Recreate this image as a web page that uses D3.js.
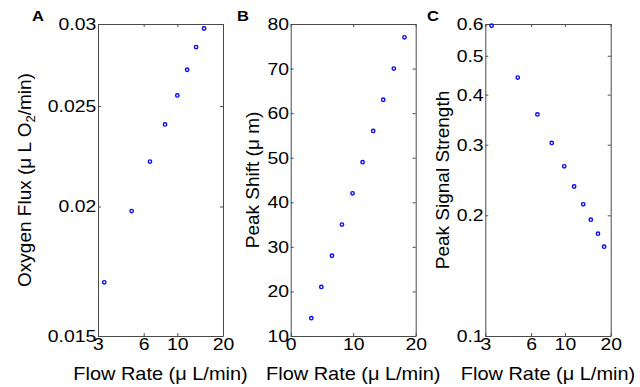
<!DOCTYPE html>
<html>
<head>
<meta charset="utf-8">
<script src="https://cdn.jsdelivr.net/npm/d3@7"></script>
<style>
  html, body { margin: 0; padding: 0; background: #fff; }
  svg { display: block; }
  text { font-family: "Liberation Sans", Arial, Helvetica, sans-serif; }
</style>
</head>
<body>
<svg id="chart" width="640" height="387"></svg>
<script>
// ---- data ----
const flowA = [3.3, 5.0, 6.6, 8.3, 10.0, 11.6, 13.3, 15.0];
const oxygenFlux = [0.0169, 0.0198, 0.0221, 0.0240, 0.0256, 0.0271, 0.0285, 0.0297];

const flowB = [3.3, 4.9, 6.6, 8.2, 9.9, 11.5, 13.2, 14.8, 16.5, 18.2];
const peakShift = [14, 21, 28, 35, 42, 49, 56, 63, 70, 77];

const flowC = [3.3, 4.9, 6.6, 8.2, 9.9, 11.5, 13.2, 14.8, 16.5, 18.1];
const signalStrength = [0.594, 0.441, 0.357, 0.303, 0.265, 0.236, 0.213, 0.195, 0.180, 0.167];

const xTicksLog = [3, 6, 10, 20];
const xTicksLin = [0, 10, 20];
const yTicksA = [0.015, 0.02, 0.025, 0.03];
const yTicksB = [10, 20, 30, 40, 50, 60, 70, 80];
const yTicksC = [0.1, 0.2, 0.3, 0.4, 0.5, 0.6];

const panelLetters = ["A", "B", "C"];
const xLabel = "Flow Rate (\u03BC L/min)";

// ---- layout ----
const svg = d3.select("#chart");
const plotTop = 24, plotBottom = 336;
const axisColor = "#4a4a4a";
const dotColor = "#0a0af0";
const tickFont = 17;
const stretch = 1.14;

const panels = [
  { left: 98, right: 223, xType: "log", xDomain: [3, 20], xTicks: xTicksLog,
    yType: "log", yDomain: [0.015, 0.03], yTicks: yTicksA,
    xs: flowA, ys: oxygenFlux, letter: panelLetters[0], letterX: 32, ylabelX: 31,
    ylabel: [["Oxygen Flux (\u03BC L O", 0], ["2", 1], ["/min)", -1]] },
  { left: 290.7, right: 415.7, xType: "lin", xDomain: [0, 20], xTicks: xTicksLin,
    yType: "lin", yDomain: [10, 80], yTicks: yTicksB,
    xs: flowB, ys: peakShift, letter: panelLetters[1], letterX: 237, ylabelX: 259,
    ylabel: [["Peak Shift (\u03BC m)", 0]] },
  { left: 485.3, right: 610.7, xType: "log", xDomain: [3, 20], xTicks: xTicksLog,
    yType: "log", yDomain: [0.1, 0.6], yTicks: yTicksC,
    xs: flowC, ys: signalStrength, letter: panelLetters[2], letterX: 427, ylabelX: 449,
    ylabel: [["Peak Signal Strength", 0]] }
];

function styleAxis(g) {
  g.select(".domain").attr("stroke", axisColor).attr("stroke-width", 1);
  g.selectAll(".tick line").attr("stroke", axisColor).attr("stroke-width", 1);
  g.selectAll(".tick text").attr("fill", "#000")
    .attr("font-size", tickFont)
    .attr("font-family", "Liberation Sans, Arial, sans-serif")
    .attr("transform", `scale(${stretch},1)`);
}

panels.forEach(p => {
  const x = (p.xType === "log" ? d3.scaleLog() : d3.scaleLinear())
    .domain(p.xDomain).range([p.left, p.right]);
  const y = (p.yType === "log" ? d3.scaleLog() : d3.scaleLinear())
    .domain(p.yDomain).range([plotBottom, plotTop]);
  const fmt = d => String(d);

  // bottom axis
  svg.append("g").attr("transform", `translate(0,${plotBottom})`)
    .call(d3.axisBottom(x).tickValues(p.xTicks).tickFormat(fmt)
      .tickSizeInner(-3).tickSizeOuter(0).tickPadding(2))
    .call(styleAxis);
  // top axis
  svg.append("g").attr("transform", `translate(0,${plotTop})`)
    .call(d3.axisTop(x).tickValues(p.xTicks).tickFormat("")
      .tickSizeInner(-3).tickSizeOuter(0))
    .call(styleAxis);
  // left axis
  svg.append("g").attr("transform", `translate(${p.left},0)`)
    .call(d3.axisLeft(y).tickValues(p.yTicks).tickFormat(fmt)
      .tickSizeInner(-3).tickSizeOuter(0).tickPadding(1.5))
    .call(styleAxis);
  // right axis
  svg.append("g").attr("transform", `translate(${p.right},0)`)
    .call(d3.axisRight(y).tickValues(p.yTicks).tickFormat("")
      .tickSizeInner(-3).tickSizeOuter(0))
    .call(styleAxis);

  // points
  const pts = p.xs.map((v, i) => ({ x: v, y: p.ys[i] }));
  svg.append("g").selectAll("circle").data(pts).join("circle")
    .attr("cx", d => x(d.x)).attr("cy", d => y(d.y))
    .attr("r", 1.7)
    .attr("fill", "none")
    .attr("stroke", dotColor)
    .attr("stroke-width", 1.4);

  // x label
  svg.append("text")
    .attr("transform", `translate(${(p.left + p.right) / 2},380) scale(1.05,1)`)
    .attr("text-anchor", "middle")
    .attr("font-size", 19)
    .attr("fill", "#000")
    .text(xLabel);

  // y label
  const yl = svg.append("text")
    .attr("transform", `translate(${p.ylabelX},${(plotTop + plotBottom) / 2}) rotate(-90)`)
    .attr("text-anchor", "middle")
    .attr("font-size", 19)
    .attr("fill", "#000");
  p.ylabel.forEach(([t, sub]) => {
    const ts = yl.append("tspan").text(t);
    if (sub === 1) ts.attr("dy", 4).attr("font-size", 13);
    if (sub === -1) ts.attr("dy", -4);
  });

  // panel letter
  svg.append("text")
    .attr("transform", `translate(${p.letterX},21) scale(1.1,1)`)
    .attr("font-size", 15)
    .attr("font-weight", "bold")
    .attr("fill", "#000")
    .text(p.letter);
});
</script>
</body>
</html>
